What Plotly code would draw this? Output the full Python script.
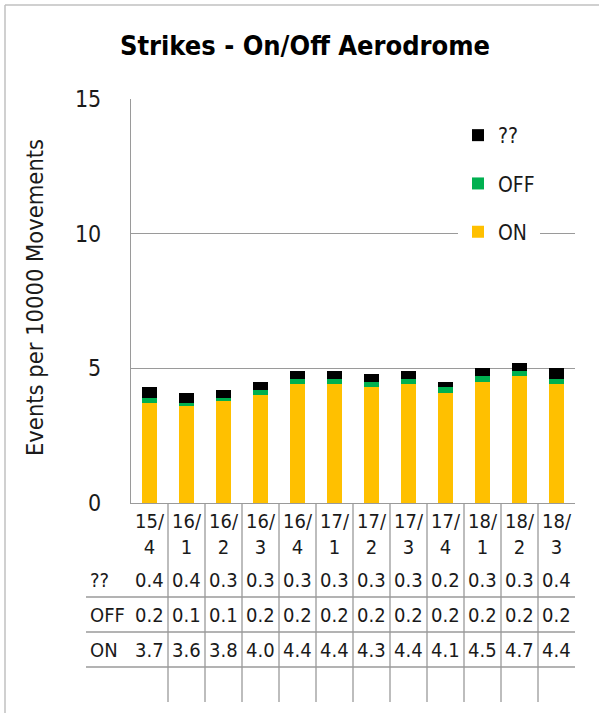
import plotly.graph_objects as go

# Quarterly strike rates (events per 10000 movements)
quarters = ["15/4", "16/1", "16/2", "16/3", "16/4", "17/1", "17/2", "17/3", "17/4", "18/1", "18/2", "18/3"]
on_aerodrome = [3.7, 3.6, 3.8, 4.0, 4.4, 4.4, 4.3, 4.4, 4.1, 4.5, 4.7, 4.4]
off_aerodrome = [0.2, 0.1, 0.1, 0.2, 0.2, 0.2, 0.2, 0.2, 0.2, 0.2, 0.2, 0.2]
unknown = [0.4, 0.4, 0.3, 0.3, 0.3, 0.3, 0.3, 0.3, 0.2, 0.3, 0.3, 0.4]

# (name, values, colour, legend rank) in stacking order, bottom first
series = [
    ("ON", on_aerodrome, "#FFC000", 3),
    ("OFF", off_aerodrome, "#00B050", 2),
    ("??", unknown, "#000000", 1),
]

FONT = "Liberation Sans Narrow, DejaVu Sans Condensed, Arial Narrow, sans-serif"
LINE = "#9a9a9a"

W, H = 599, 713
ML, MR, MT, MB = 131, 24, 99, 210
PW, PH = W - ML - MR, H - MT - MB


def py(y_px):
    """Pixel row -> paper y."""
    return (H - MB - y_px) / PH


def px(x_px):
    """Pixel column -> paper x."""
    return (x_px - ML) / PW


fig = go.Figure()
for name, vals, color, rank in series:
    fig.add_bar(
        x=quarters, y=vals, name=name, legendgroup=name, legendrank=rank,
        marker=dict(color=color, line=dict(width=0)),
    )

annotations = []
shapes = []

# Data table below the axis: one row per series, top row is "??"
rows = [("??", unknown, 580), ("OFF", off_aerodrome, 615), ("ON", on_aerodrome, 650)]
for label, vals, yc in rows:
    annotations.append(dict(
        x=px(88), y=py(yc), xref="paper", yref="paper", text=label,
        showarrow=False, xanchor="left", yanchor="middle",
        font=dict(family=FONT, size=20, color="#1a1a1a"),
    ))
    for q, v in zip(quarters, vals):
        annotations.append(dict(
            x=q, y=py(yc), xref="x", yref="paper", text=f"{v:.1f}",
            showarrow=False, xanchor="center", yanchor="middle",
            font=dict(family=FONT, size=20, color="#1a1a1a"),
        ))

# Horizontal table rules
for y_line in (597, 632, 667):
    shapes.append(dict(type="line", xref="paper", yref="paper",
                       x0=px(86), x1=1, y0=py(y_line), y1=py(y_line),
                       line=dict(color=LINE, width=1.3)))

# Vertical column separators between quarters
for i in range(1, len(quarters)):
    shapes.append(dict(type="line", xref="x", yref="paper",
                       x0=i - 0.5, x1=i - 0.5, y0=py(503), y1=py(702),
                       line=dict(color=LINE, width=1.3)))

# Chart frame (left and top edges)
shapes.append(dict(type="line", xref="paper", yref="paper",
                   x0=px(5), x1=px(5), y0=py(5), y1=py(720),
                   line=dict(color="#c0c0c0", width=1.5)))
shapes.append(dict(type="line", xref="paper", yref="paper",
                   x0=px(5), x1=px(610), y0=py(5), y1=py(5),
                   line=dict(color="#c0c0c0", width=1.5)))

# Vertical axis title
annotations.append(dict(
    x=px(35), y=py(298), xref="paper", yref="paper",
    text="Events per 10000 Movements", textangle=-90, showarrow=False,
    xanchor="center", yanchor="middle",
    font=dict(family=FONT, size=23.5, color="#1a1a1a"),
))

fig.update_layout(
    width=W, height=H,
    margin=dict(l=ML, r=MR, t=MT, b=MB, pad=0),
    paper_bgcolor="white", plot_bgcolor="white",
    barmode="stack", bargap=0.6,
    title=dict(
        text="<b>Strikes - On/Off Aerodrome</b>",
        x=305 / W, xanchor="center", y=1 - 46 / H, yanchor="middle",
        font=dict(family=FONT, size=27, color="#000000"),
    ),
    font=dict(family=FONT, color="#1a1a1a"),
    showlegend=True,
    legend=dict(
        x=px(458), y=py(115), xanchor="left", yanchor="top",
        bgcolor="white", borderwidth=0,
        traceorder="grouped", tracegroupgap=18,
        font=dict(family=FONT, size=21, color="#1a1a1a"),
    ),
    xaxis=dict(
        type="category", categoryorder="array", categoryarray=quarters,
        tickvals=quarters, ticktext=[q.replace("/", "/<br>") for q in quarters],
        tickfont=dict(family=FONT, size=20, color="#1a1a1a"),
        showline=True, linecolor=LINE, linewidth=1.3, ticks="",
        showgrid=False, range=[-0.5, len(quarters) - 0.5],
    ),
    yaxis=dict(
        range=[0, 15], tickvals=[0, 5, 10, 15],
        tickfont=dict(family=FONT, size=23, color="#1a1a1a"),
        showgrid=True, gridcolor=LINE, gridwidth=1.3,
        showline=True, linecolor=LINE, linewidth=1.3,
        zeroline=False, ticks="", ticklabelstandoff=24,
    ),
    annotations=annotations,
    shapes=shapes,
)

fig.write_html("out.html")
